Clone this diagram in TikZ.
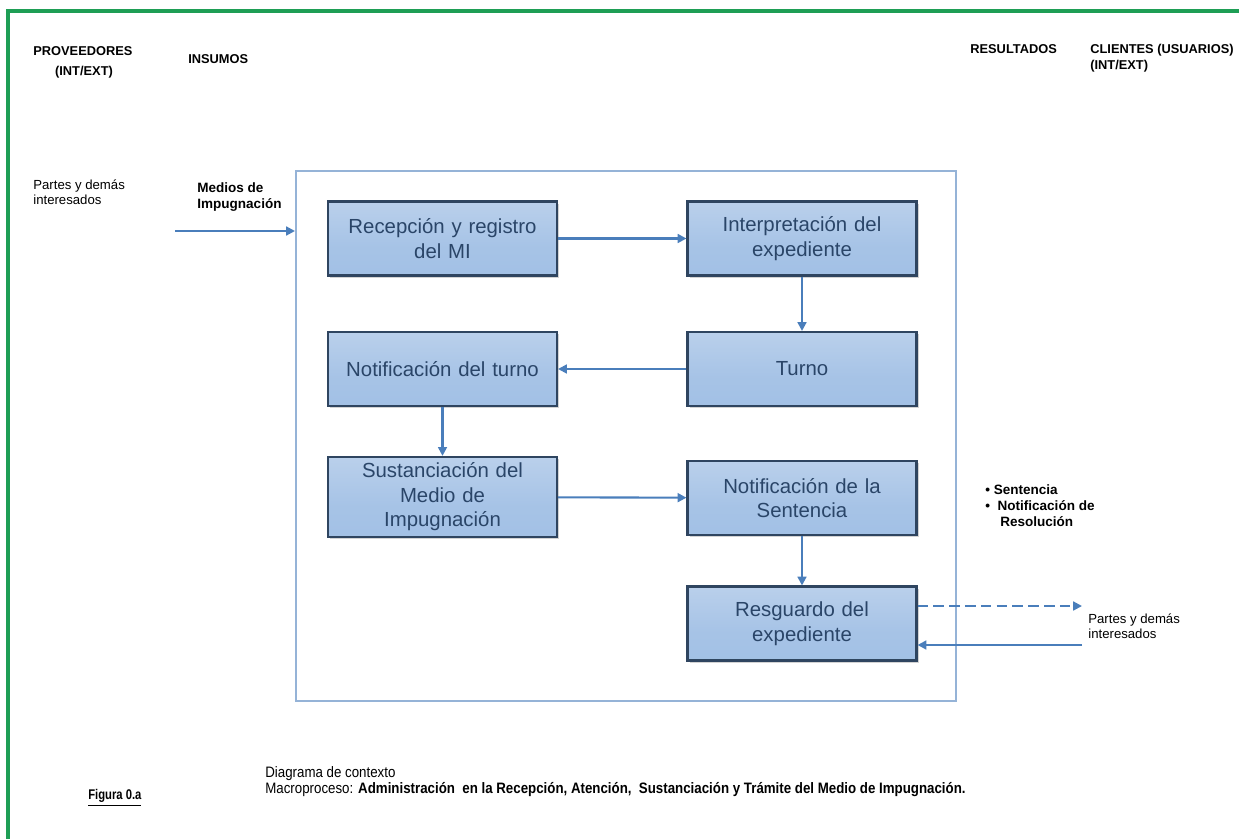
\documentclass[tikz,border=0pt]{standalone}
\usepackage{fontspec}
\setmainfont{Liberation Sans}
\usetikzlibrary{arrows.meta,shadows,positioning}
\definecolor{frameg}{HTML}{1E9E55}
\definecolor{procline}{HTML}{95B3D7}
\definecolor{arrowc}{HTML}{4A7EBB}
\definecolor{boxedge}{HTML}{2F4560}
\definecolor{boxtext}{HTML}{2A4568}
\definecolor{btop}{HTML}{E6EDF6}
\definecolor{bmid}{HTML}{BDD2EC}
\definecolor{bbot}{HTML}{9DBDE4}
\pgfdeclareverticalshading{boxshade}{100bp}{color(0bp)=(bbot); color(45bp)=(bbot!70!bmid); color(80bp)=(bmid); color(100bp)=(btop)}
\newcommand{\narrowtxt}[1]{\scalebox{0.88}[1]{#1}}
\tikzset{
  stepbox/.style={draw=boxedge, line width=1.2pt, shading=boxshade,
    minimum width=4.58cm, minimum height=1.48cm, align=center, text width=4.3cm,
    font=\fontsize{11.6}{14}\selectfont, text=boxtext,
    drop shadow={shadow xshift=1.2pt, shadow yshift=-1.2pt, opacity=0.35}},
  flow/.style={draw=arrowc, line width=1.2pt, -{Triangle[length=5pt,width=5pt]}},
  head/.style={font=\bfseries\fontsize{7.3}{9}\selectfont, anchor=north west, inner sep=0pt, align=left},
  plain/.style={font=\fontsize{7.5}{8.8}\selectfont, anchor=north west, inner sep=0pt, align=left},
  boldtxt/.style={font=\bfseries\fontsize{7.7}{9.2}\selectfont, anchor=north west, inner sep=0pt, align=left}
}
\begin{document}
\begin{tikzpicture}[x=0.02cm,y=-0.02cm]
\useasboundingbox (0,0) rectangle (1239,838);

% outer green frame
\draw[frameg, line width=2pt] (8,842) -- (8,11) -- (1243,11);

% column headings
\node[head] (hprov) at (33,46) {PROVEEDORES};
\node[head, anchor=north] (hprovsub) at (84,66) {(INT/EXT)};
\node[head] (hins) at (188,54) {INSUMOS};
\node[head] (hres) at (970,44) {RESULTADOS};
\node[head] (hcli) at (1090,44) {CLIENTES (USUARIOS)\\(INT/EXT)};

% process boundary
\node[draw=procline, line width=1.3pt, minimum width=13.2cm, minimum height=10.6cm, anchor=north west, inner sep=0pt] (proc) at (295,170) {};

% inputs
\node[plain] (partesin) at (33,179) {Partes y demás\\interesados};
\node[boldtxt] (medios) at (197,182) {Medios de\\Impugnación};
\coordinate (inA) at (175,231);

% process steps
\node[stepbox] (r1) at (442.5,238.5) {Recepción y registro\\del MI};
\node[stepbox] (r2) at (802,238.5) {Interpretación del\\expediente};
\node[stepbox] (r3) at (442.5,369) {Notificación del turno};
\node[stepbox] (r4) at (802,369) {Turno};
\node[stepbox] (r5) at (442.5,497) {Sustanciación del\\Medio de\\Impugnación};
\node[stepbox] (r6) at (802,498) {Notificación de la\\Sentencia};
\node[stepbox] (r7) at (802,623.5) {Resguardo del\\expediente};

% outputs
\node[boldtxt] (results) at (985,484) {\textbullet\ Sentencia\\\textbullet\ \ Notificación de\\\hspace*{1.1em}Resolución};
\node[plain] (partesout) at (1088,613) {Partes y demás\\interesados};
\coordinate (outA) at (1082,606);
\coordinate (outB) at (1082,645);

% connectors
\draw[flow] (inA) -- (proc.west |- inA);
\draw[flow] (r1) -- (r2);
\draw[flow] (r2) -- (r4);
\draw[flow] (r4) -- (r3);
\draw[flow] (r3) -- (r5);
\draw[flow] (r5) -- (r6);
\draw[flow] (r6) -- (r7);
\draw[flow, dashed, dash pattern=on 6pt off 3pt] (r7.east |- outA) -- (outA);
\draw[flow] (outB) -- (r7.east |- outB);

% caption
\node[font=\bfseries\fontsize{8}{9}\selectfont, anchor=north west, inner sep=0pt] (fig) at (88,789) {\scalebox{0.8}[1]{\underline{Figura 0.a}}};
\node[font=\fontsize{8.6}{9.2}\selectfont, anchor=north west, inner sep=0pt, align=left] (cap) at (265,766)
  {\narrowtxt{Diagrama de contexto}\\\narrowtxt{Macroproceso: \textbf{Administración\ \ en la Recepción, Atención,\ \ Sustanciación y Trámite del Medio de Impugnación.}}};
\end{tikzpicture}
\end{document}
